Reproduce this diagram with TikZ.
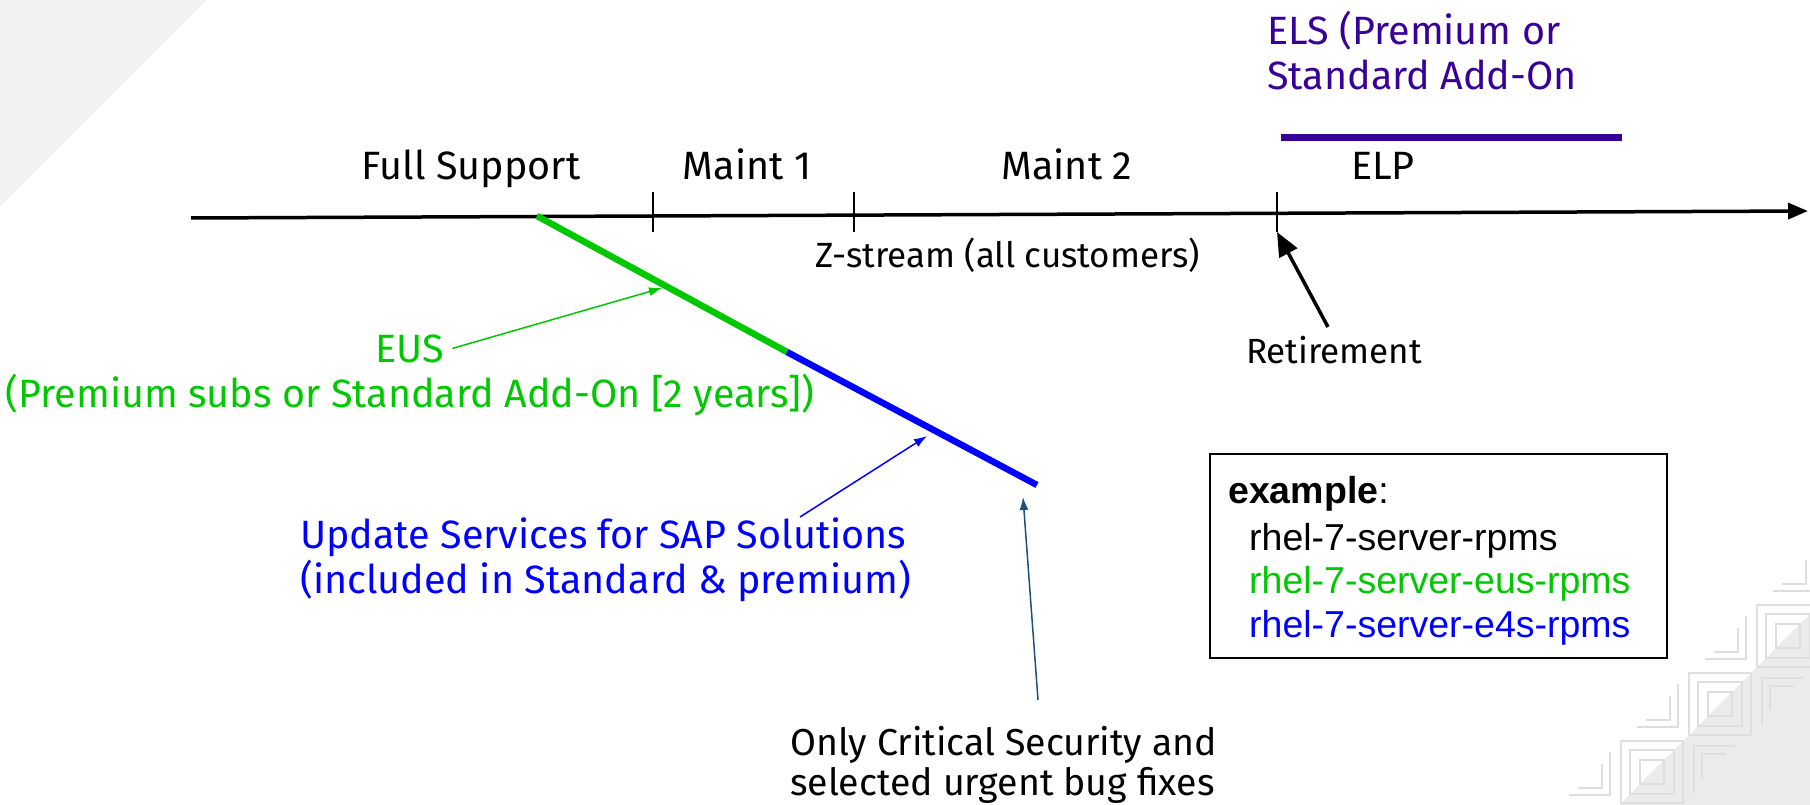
\documentclass[tikz,border=0pt]{standalone}
\usepackage{fontspec}
\setmainfont{Fira Sans}
\newfontfamily\boxfont{Liberation Sans}
\usetikzlibrary{arrows.meta,positioning}

\definecolor{eusgreen}{RGB}{0,200,0}
\definecolor{e4sblue}{RGB}{0,0,255}
\definecolor{elspurple}{RGB}{56,0,153}
\definecolor{notearrow}{RGB}{31,78,121}
\definecolor{decogray}{RGB}{242,242,242}
\definecolor{decofill}{RGB}{235,235,235}
\definecolor{decoline}{RGB}{222,222,222}

\begin{document}
\begin{tikzpicture}[x=1pt, y=-1pt,
	lbl/.style={font=\fontsize{39.5}{45}\selectfont, inner sep=0pt, anchor=base},
	note/.style={font=\fontsize{35}{40}\selectfont, inner sep=0pt, anchor=base},
	rpm/.style={font=\boxfont\fontsize{37.5}{44}\selectfont, inner sep=0pt, anchor=base west},
	period/.style={line width=6.5pt},
	post/.style={line width=1.5pt, -{Latex[length=13pt, width=9pt]}},
	deco/.style={draw=decoline, line width=1.2pt}]

	\useasboundingbox (0,0) rectangle (1810,805);
	\fill[decogray] (0,0) -- (207,0) -- (0,207) -- cycle;

	% corner pattern
	\fill[decofill] (1810,614) -- (1810,805) -- (1619,805) -- cycle;
	\foreach \k in {0,1,2}
		\foreach \d in {3,12,22}
			\draw[deco] (1754-68*\k+\d, 602+68*\k+\d) rectangle ++(68-2*\d, 68-2*\d);
	\foreach \k in {0,...,3} {
		\draw[deco] (1754-68*\k+60, 534+68*\k+14) -- ++(0,43) -- ++(-41,0);
		\draw[deco] (1754-68*\k+52, 534+68*\k+26) -- ++(0,24) -- ++(-24,0);
	}
	\foreach \k in {0,1} {
		\draw[deco] (1754-68*\k+49, 670+68*\k+8) -- ++(-41,0) -- ++(0,47);
		\draw[deco] (1754-68*\k+40, 670+68*\k+16) -- ++(-24,0) -- ++(0,24);
	}

	% time line
	\coordinate (AxisStart) at (191,218);
	\coordinate (AxisEnd) at (1808,211);
	\draw[line width=3.5pt, -{Triangle[length=20pt, width=16pt]}] (AxisStart) -- (AxisEnd);
	\foreach \x/\name in {653/TickA, 854/TickB, 1277/TickC}
		\draw[line width=1.5pt] (\x,192) -- (\x,232) coordinate (\name);

	\node[lbl] (FullSupport) at (471,180) {Full Support};
	\node[lbl] (Maint1) at (747,180) {Maint 1};
	\node[lbl] (Maint2) at (1067,180) {Maint 2};
	\node[lbl] (ELP) at (1383,180) {ELP};
	\node[note] (ZStream) at (1008,268) {Z-stream (all customers)};
	\node[note] (Retirement) at (1334,363) {Retirement};

	\node[lbl, anchor=base west, align=left, text=elspurple] (ELS) at (1267,90) {ELS (Premium or\\Standard Add-On};
	\draw[line width=7pt, elspurple] (1281,137.5) -- (1622,137.5);

	% EUS and E4S
	\coordinate (EusStart) at (537,216);
	\coordinate (EusEnd) at (787,352);
	\coordinate (E4sEnd) at (1037,485);
	\draw[period, eusgreen] (EusStart) -- (EusEnd);
	\draw[period, e4sblue] (EusEnd) -- (E4sEnd);

	\node[lbl, text=eusgreen] (EUS) at (410,362) {EUS};
	\node[lbl, text=eusgreen] (EUSNote) at (410,407) {(Premium subs or Standard Add-On [2 years])};
	\node[lbl, anchor=base west, align=left, text=e4sblue] (SAP) at (300,593) {Update Services for SAP Solutions\\(included in Standard \& premium)};
	\node[note, font=\fontsize{37.5}{40}\selectfont, anchor=base west, align=left] (Critical) at (790,795) {Only Critical Security and\\selected urgent bug fixes};

	\coordinate (EusMid) at (662,288);
	\coordinate (SAPFrom) at (800,517);
	\coordinate (E4sMid) at (927,436);
	\coordinate (CriticalFrom) at (1038,700);
	\coordinate (E4sTip) at (1023,497);
	\coordinate (RetireFrom) at (1328,327);

	\draw[post, eusgreen] ([xshift=8pt]EUS.east) -- (EusMid);
	\draw[post, e4sblue] (SAPFrom) -- (E4sMid);
	\draw[post, notearrow] (CriticalFrom) -- (E4sTip);
	\draw[line width=3.5pt, -{Triangle[length=24pt, width=20pt]}] (RetireFrom) -- (TickC);

	% example box
	\node[draw, line width=2pt, minimum width=457, minimum height=204, anchor=north west, inner sep=0pt] (ExampleBox) at (1209,453) {};
	\node[rpm] (BoxTitle) at (1228,503) {\textbf{example}:};
	\node[rpm] (BoxRpms) at (1249,550) {rhel-7-server-rpms};
	\node[rpm, text=eusgreen] (BoxEus) at (1249,593) {rhel-7-server-eus-rpms};
	\node[rpm, text=e4sblue] (BoxE4s) at (1249,637) {rhel-7-server-e4s-rpms};
\end{tikzpicture}
\end{document}
